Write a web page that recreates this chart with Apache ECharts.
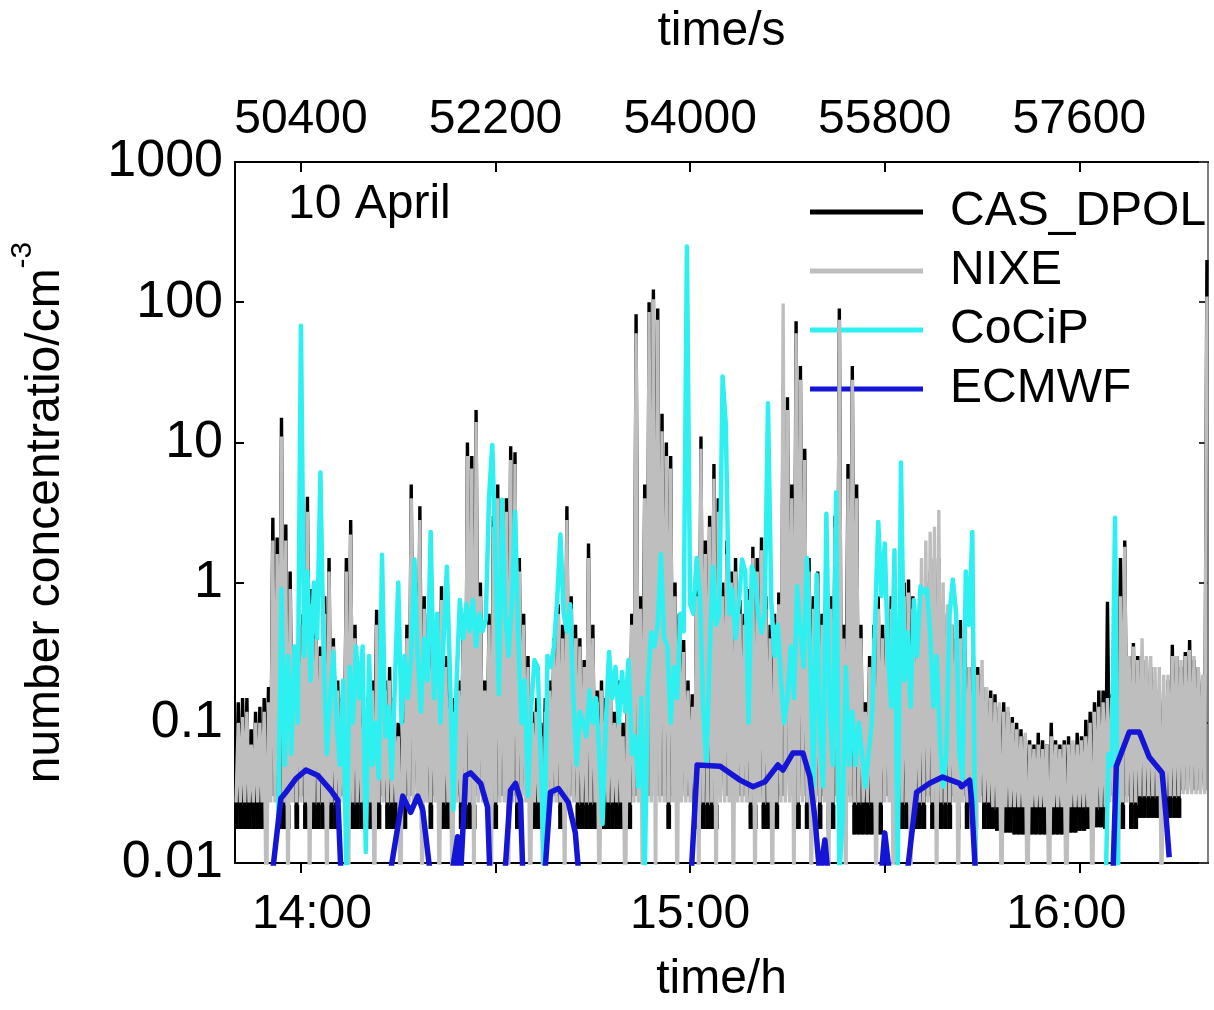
<!DOCTYPE html>
<html><head><meta charset="utf-8">
<script src="https://cdn.jsdelivr.net/npm/echarts@6/dist/echarts.min.js"></script>
<style>html,body{margin:0;padding:0;background:#fff}#c{width:1214px;height:1010px}</style>
</head><body><div id="c"></div>
<script>
// ---------- data ----------
// CAS_DPOL: per 40 s block starting at 49800 s: low reading (and top of its low-level band), high reading 20 s later
const casStart = 49800, casStep = 20;
const casHi = [
0.14,0.15,0.15,0.09,0.12,0.13,0.15,0.18,2.9,2.1,
15,2.6,1.2,0.2,0.5,0.6,4.1,0.9,0.5,0.35,
0.8,1.5,0.4,0.2,0.15,1.5,2.8,0.5,0.2,0.12,
0.15,0.2,0.64,0.3,0.2,0.25,0.15,0.1,0.12,0.5,
5.0,1.0,3.5,0.8,0.6,0.4,0.5,0.94,0.3,0.18,
0.15,0.2,0.5,10,8,17,1.0,0.2,0.6,3,
5,2,4,9.4,8.5,1.5,0.6,0.3,0.12,0.15,
0.1,0.15,0.2,0.4,0.7,0.5,3.5,0.8,0.5,0.4,
0.28,1.9,0.5,0.17,0.2,0.15,0.25,0.12,0.2,0.1,
0.2,0.6,82,0.8,5,100,123,90,16,10,
8,1.0,0.6,0.39,0.2,0.16,1.0,11,2,3,
7,4,1.0,2,1.2,1.5,0.75,0.6,0.9,1.8,
1.5,2.1,0.8,0.5,0.6,0.85,25,21,5,73,
35,9,1.5,0.8,1.2,0.6,1.5,0.8,3,90,
0.5,7,35,5,0.5,0.14,0.3,0.5,0.8,0.5,
0.6,0.8,0.4,0.6,1.0,1.05,0.8,0.5,0.8,1.0,
1.2,1.5,1.5,0.7,0.6,0.5,0.4,0.54,0.35,0.25,
0.3,0.25,0.22,0.18,0.17,0.16,0.13,0.14,0.12,0.11,
0.1,0.09,0.08,0.075,0.07,0.085,0.075,0.07,0.1,0.075,
0.07,0.075,0.08,0.07,0.085,0.08,0.105,0.12,0.14,0.17,
0.17,0.73,0.16,0.2,1.5,2.0,0.3,0.37,0.3,0.3,
0.28,0.25,0.2,0.17,0.15,0.2,0.36,0.3,0.25,0.32,
0.39,0.28,0.25,0.2,200];
const casLo = [
0.0175,0.0175,0.0175,0.0175,0.0175,0.0175,0.0175,0.03,0.03,0.03,
0.0175,0.0175,0.0175,0.03,0.0175,0.03,0.0175,0.03,0.0175,0.0175,
0.0175,0.0175,0.0175,0.0175,0.03,0.03,0.0175,0.0175,0.0175,0.0175,
0.03,0.0175,0.03,0.0175,0.03,0.0175,0.0175,0.0175,0.0175,0.0175,
0.03,0.03,0.03,0.0175,0.03,0.0175,0.03,0.0175,0.0175,0.0175,
0.03,0.03,0.0175,0.0175,0.0175,0.0175,0.03,0.03,0.03,0.0175,
0.0175,0.03,0.03,0.0175,0.03,0.0175,0.03,0.03,0.03,0.0175,
0.0175,0.03,0.03,0.03,0.03,0.0175,0.03,0.03,0.03,0.0175,
0.0175,0.0175,0.0175,0.0175,0.0175,0.0175,0.0175,0.0175,0.0175,0.0175,
0.0175,0.0175,0.03,0.03,0.03,0.03,0.03,0.03,0.03,0.03,
0.0175,0.03,0.03,0.03,0.03,0.03,0.0175,0.0175,0.0175,0.0175,
0.0175,0.0175,0.03,0.03,0.03,0.03,0.03,0.03,0.03,0.0175,
0.0175,0.03,0.0175,0.0175,0.0175,0.0175,0.03,0.03,0.03,0.03,
0.0175,0.03,0.0175,0.03,0.03,0.0175,0.03,0.0175,0.0175,0.03,
0.03,0.03,0.03,0.016,0.016,0.016,0.016,0.016,0.016,0.016,
0.03,0.03,0.03,0.03,0.0175,0.0175,0.03,0.0175,0.0175,0.0175,
0.03,0.0175,0.0175,0.0175,0.0175,0.0175,0.03,0.0175,0.03,0.0175,
0.03,0.0175,0.03,0.0175,0.0175,0.0175,0.017,0.017,0.0165,0.0165,
0.016,0.016,0.016,0.016,0.016,0.016,0.016,0.016,0.016,0.016,
0.016,0.016,0.016,0.0165,0.0165,0.017,0.017,0.0175,0.018,0.018,
0.018,0.0175,0.03,0.03,0.0175,0.0175,0.03,0.0175,0.0175,0.021,
0.021,0.021,0.021,0.021,0.021,0.021,0.021,0.021,0.021,0.033,
0.033,0.033,0.033,0.033,0.033];
const casTop = [
0.026,0.026,0.026,0.026,0.026,0.026,0.026,0.03,0.03,0.03,
0.026,0.026,0.026,0.03,0.026,0.03,0.026,0.03,0.026,0.026,
0.026,0.026,0.026,0.026,0.03,0.03,0.026,0.026,0.026,0.026,
0.03,0.026,0.03,0.026,0.03,0.026,0.026,0.026,0.026,0.026,
0.03,0.03,0.03,0.026,0.03,0.026,0.03,0.026,0.026,0.026,
0.03,0.03,0.026,0.026,0.026,0.026,0.03,0.03,0.03,0.026,
0.026,0.03,0.03,0.026,0.03,0.026,0.03,0.03,0.03,0.026,
0.026,0.03,0.03,0.03,0.03,0.026,0.03,0.03,0.03,0.026,
0.026,0.026,0.026,0.026,0.026,0.026,0.026,0.026,0.026,0.026,
0.026,0.026,0.03,0.03,0.03,0.03,0.03,0.03,0.03,0.03,
0.026,0.03,0.03,0.03,0.03,0.03,0.026,0.026,0.026,0.026,
0.026,0.026,0.03,0.03,0.03,0.03,0.03,0.03,0.03,0.026,
0.026,0.03,0.026,0.026,0.026,0.026,0.03,0.03,0.03,0.03,
0.026,0.03,0.026,0.03,0.03,0.026,0.03,0.026,0.026,0.03,
0.03,0.03,0.03,0.026,0.026,0.026,0.026,0.026,0.026,0.026,
0.03,0.03,0.03,0.03,0.026,0.026,0.03,0.026,0.026,0.026,
0.03,0.026,0.026,0.026,0.026,0.026,0.03,0.026,0.03,0.026,
0.03,0.026,0.03,0.026,0.026,0.024,0.024,0.024,0.024,0.024,
0.024,0.024,0.024,0.024,0.024,0.024,0.024,0.024,0.024,0.024,
0.024,0.024,0.024,0.024,0.024,0.024,0.024,0.024,0.024,0.024,
0.025,0.026,0.03,0.03,0.026,0.026,0.03,0.026,0.026,0.029,
0.029,0.029,0.029,0.029,0.029,0.029,0.029,0.029,0.029,0.033,
0.033,0.033,0.033,0.033,0.033];
// NIXE: per 40 s block starting at 49800 s: low reading, then high reading 20 s later
const nixeHi = [
0.1,0.11,0.12,0.07,0.1,0.1,0.12,0.14,2.0,1.6,
11,2.0,0.9,0.17,0.45,0.5,3.2,0.7,0.4,0.3,
0.6,1.2,0.35,0.17,0.12,1.2,2.2,0.4,0.17,0.1,
0.12,0.17,0.5,0.25,0.17,0.2,0.12,0.08,0.1,0.4,
4.0,0.8,2.8,0.65,0.5,0.35,0.4,0.75,0.25,0.15,
0.12,0.17,0.4,8,6.5,14,0.8,0.17,0.5,2.5,
4,1.6,3.2,7.5,7,1.2,0.5,0.25,0.1,0.12,
0.08,0.12,0.17,0.35,0.6,0.4,2.8,0.65,0.4,0.35,
0.25,1.5,0.4,0.14,0.17,0.12,0.2,0.1,0.17,0.08,
0.17,0.5,60,0.65,4,85,105,75,12,8,
6.5,0.8,0.5,0.32,0.17,0.13,0.8,9,1.6,2.5,
5.5,3.2,0.8,1.6,1.0,1.2,0.6,0.5,0.75,1.5,
1.2,1.7,0.65,0.4,0.5,0.7,98,17,4,60,
28,7.5,1.2,0.65,1.0,0.5,1.2,0.65,2.5,75,
0.4,5.5,28,4,0.4,0.12,0.25,0.4,0.65,0.4,
0.5,0.65,0.35,0.5,0.8,0.85,0.65,0.4,1.5,2.0,
2.3,2.5,3.3,1.0,0.7,0.5,0.45,0.4,0.3,0.25,
0.25,0.22,0.28,0.18,0.15,0.14,0.14,0.12,0.13,0.1,
0.09,0.08,0.085,0.07,0.065,0.07,0.065,0.07,0.08,0.07,
0.065,0.07,0.07,0.075,0.07,0.075,0.08,0.1,0.12,0.13,
0.14,0.15,0.15,0.2,0.8,1.8,0.3,0.35,0.28,0.4,
0.3,0.3,0.25,0.25,0.22,0.22,0.3,0.3,0.28,0.3,
0.33,0.3,0.25,0.22,110];
const nixeLo = [
0.027,0.027,0.027,0.027,0.027,0.027,0.027,0.003,0.027,0.027,
0.027,0.027,0.003,0.027,0.027,0.027,0.027,0.003,0.027,0.027,
0.027,0.003,0.027,0.027,0.027,0.027,0.003,0.027,0.027,0.027,
0.027,0.027,0.003,0.027,0.027,0.027,0.027,0.027,0.003,0.027,
0.027,0.027,0.027,0.003,0.027,0.027,0.027,0.003,0.027,0.027,
0.003,0.027,0.027,0.027,0.027,0.003,0.027,0.027,0.027,0.003,
0.027,0.027,0.027,0.003,0.027,0.027,0.027,0.027,0.003,0.027,
0.027,0.003,0.027,0.027,0.027,0.027,0.003,0.027,0.027,0.027,
0.027,0.027,0.027,0.027,0.003,0.027,0.027,0.027,0.027,0.027,
0.003,0.027,0.027,0.027,0.003,0.027,0.027,0.003,0.027,0.027,
0.027,0.027,0.003,0.027,0.027,0.027,0.027,0.003,0.027,0.027,
0.027,0.003,0.027,0.027,0.027,0.003,0.027,0.027,0.027,0.027,
0.003,0.027,0.027,0.027,0.003,0.027,0.027,0.027,0.027,0.003,
0.027,0.027,0.027,0.003,0.027,0.027,0.027,0.003,0.027,0.027,
0.027,0.003,0.027,0.027,0.027,0.027,0.027,0.027,0.003,0.027,
0.027,0.027,0.003,0.027,0.027,0.027,0.003,0.027,0.027,0.027,
0.027,0.027,0.003,0.027,0.027,0.027,0.027,0.003,0.027,0.027,
0.027,0.003,0.027,0.027,0.027,0.025,0.025,0.003,0.025,0.025,
0.025,0.025,0.025,0.003,0.025,0.025,0.025,0.025,0.003,0.025,
0.025,0.025,0.003,0.025,0.025,0.025,0.025,0.025,0.003,0.025,
0.025,0.025,0.027,0.027,0.003,0.027,0.027,0.027,0.027,0.03,
0.03,0.03,0.03,0.03,0.003,0.03,0.03,0.03,0.03,0.031,
0.031,0.031,0.031,0.031,0.031];
// CoCiP: one value every 30 s starting at 50100 s (null = no model value)
const cocipStart = 50100, cocipStep = 30;
const cocip = [
null,null,null,0.02,0.9,0.05,0.3,0.06,0.35,0.1,
68,0.3,1.2,0.2,1.0,0.4,6.1,0.3,0.06,0.15,
0.32,0.1,0.05,0.2,0.008,0.25,0.1,0.35,0.15,0.35,
0.012,0.3,0.05,0.1,0.04,1.58,0.08,0.13,0.04,0.2,
1.0,0.1,0.3,0.15,0.3,1.46,0.3,0.12,0.4,0.2,
2.3,0.15,0.6,0.1,0.4,1.3,0.2,0.024,0.2,0.75,
0.4,0.7,0.45,0.75,0.35,0.6,0.45,0.55,4.1,9.6,
1.5,0.16,3.9,0.6,0.3,0.7,3.2,0.4,0.1,0.2,
0.03,0.13,0.28,0.25,0.05,0.008,0.3,0.25,0.35,0.75,
2.2,0.6,0.45,0.7,0.15,0.05,0.12,0.1,0.08,0.17,
0.1,0.15,0.06,0.019,0.1,0.32,0.15,0.25,0.1,0.23,
0.12,0.28,0.06,0.08,0.035,0.15,0.008,0.2,0.44,0.35,
0.5,1.6,0.4,0.35,0.1,0.25,0.15,0.6,0.45,250,
0.7,0.6,1.5,0.8,0.13,0.05,0.3,1.3,0.5,0.6,
29.5,13.4,0.6,0.9,0.4,0.7,1.46,1.2,0.1,1.3,
1.1,0.6,0.44,0.6,19,0.75,0.3,0.5,0.2,0.1,
0.15,0.35,0.15,0.94,0.44,0.25,1.5,0.3,0.035,1.14,
0.08,0.035,3.1,0.13,0.05,4.4,0.008,0.02,0.25,0.05,
0.12,0.05,0.1,0.06,0.035,0.06,0.1,0.5,2.7,0.8,
1.9,0.3,0.13,1.7,0.008,7.2,0.2,0.44,0.13,0.75,
0.3,0.94,0.85,0.9,0.44,0.13,0.3,0.08,0.035,0.06,
0.6,1.05,0.6,0.06,0.04,1.2,0.5,2.3,0.005,null,
null,null,null,null,null,null,null,null,null,null,
null,null,null,null,null,null,null,null,null,null,
null,null,null,null,null,null,null,null,null,null,
null,null,null,null,null,null,null,null,0.005,0.06,
0.05,2.9,0.005];
// ECMWF: [time/s, value]
const ecmwf = [
[50114,0.006],[50215,0.029],[50262,0.032],[50354,0.04],[50446,0.046],[50557,0.042],[50677,0.033],[50742,0.028],[50778,0.006],
[51194,0.006],[51342,0.030],[51415,0.023],[51480,0.030],[51526,0.024],[51618,0.006],
[51766,0.006],[51849,0.0154],[51868,0.006],[51923,0.042],[51969,0.044],[52062,0.037],[52126,0.025],[52154,0.006],
[52274,0.006],[52338,0.033],[52385,0.037],[52431,0.028],[52458,0.006],
[52643,0.006],[52708,0.032],[52782,0.034],[52874,0.027],[52938,0.0164],[52985,0.006],
[54000,0.006],[54065,0.050],[54277,0.049],[54462,0.039],[54582,0.035],[54692,0.038],[54812,0.050],[54858,0.046],[54951,0.061],[55043,0.061],[55108,0.041],[55154,0.021],[55200,0.008],[55246,0.0146],[55292,0.006],
[55754,0.006],[55800,0.0164],[55865,0.006],
[55985,0.006],[56095,0.032],[56215,0.037],[56335,0.041],[56492,0.037],[56511,0.035],[56585,0.039],[56603,0.028],[56649,0.006],
[57905,0.006],[57942,0.049],[58062,0.086],[58154,0.086],[58246,0.057],[58366,0.044],[58403,0.021],[58431,0.011]];

const xMin = 49790, xMax = 58790;
const secTicks = [50400, 52200, 54000, 55800, 57600];
const hourTicks = [50400, 54000, 57600];
const hourLabels = ['14:00', '15:00', '16:00'];
const yTickLabels = ['0.01', '0.1', '1', '10', '100', '1000'];
const seriesNames = ['CAS_DPOL', 'NIXE', 'CoCiP', 'ECMWF'];

// ---------- build ----------
const tk = k => casStart + 2 * casStep * k;
const casData = [], nixeData = [];
casHi.forEach((hi, k) => { casData.push([tk(k), casLo[k]], [tk(k) + casStep, hi]); });
nixeHi.forEach((hi, k) => { nixeData.push([tk(k), nixeLo[k]], [tk(k) + casStep, hi]); });
const bandData = casLo.map((v, k) => [tk(k), v, casTop[k]]);
const cocipData = cocip.map((v, i) => [cocipStart + cocipStep * i, v]);

function renderBand(params, api) {
  const t = api.value(0), lo = api.value(1), top = api.value(2);
  if (!(top > lo)) return null;
  const a = api.coord([t - casStep, lo]);
  const b = api.coord([t + casStep, top]);
  return { type: 'rect', shape: { x: a[0], y: b[1], width: b[0] - a[0] + 0.4, height: a[1] - b[1] },
           style: { fill: '#000' } };
}

const FONT = '"Liberation Sans", Arial, sans-serif';
const txt = { fontSize: 48, fontFamily: FONT, color: '#000' };
const hourRich = ['r', 'c', 'l'];
const chart = echarts.init(document.getElementById('c'));
chart.setOption({
  animation: false,
  backgroundColor: '#fff',
  grid: { left: 234, right: 6, top: 162, bottom: 147 },
  legend: {
    orient: 'vertical', left: 805, top: 183, icon: 'rect', itemWidth: 113, itemHeight: 5, itemGap: 11,
    selectedMode: false, data: seriesNames,
    textStyle: Object.assign({ lineHeight: 48, padding: [0, 0, 0, 22] }, txt)
  },
  graphic: [{ type: 'text', left: 288, top: 181, style: { text: '10 April', font: '48px ' + FONT, fill: '#000' } }],
  xAxis: [{
    type: 'value', position: 'bottom', min: xMin, max: xMax,
    name: 'time/h', nameLocation: 'middle', nameGap: 93, nameTextStyle: txt,
    axisLine: { onZero: false, lineStyle: { color: '#000', width: 2 } },
    axisTick: { inside: false, length: 10, customValues: secTicks, lineStyle: { color: '#000', width: 2 } },
    axisLabel: Object.assign({
      customValues: hourTicks, margin: 28,
      formatter: v => { const i = hourTicks.indexOf(v); return '{' + hourRich[i] + '|' + hourLabels[i] + '}'; },
      rich: {
        r: { fontSize: 48, fontFamily: FONT, color: '#000', padding: [0, 0, 0, 22] },
        c: { fontSize: 48, fontFamily: FONT, color: '#000' },
        l: { fontSize: 48, fontFamily: FONT, color: '#000', padding: [0, 26, 0, 0] }
      }
    }, txt),
    splitLine: { show: false }
  }, {
    type: 'value', position: 'top', min: xMin, max: xMax,
    name: 'time/s', nameLocation: 'middle', nameGap: 106, nameTextStyle: txt,
    axisLine: { onZero: false, lineStyle: { color: '#000', width: 2 } },
    axisTick: { inside: true, length: 10, customValues: secTicks, lineStyle: { color: '#000', width: 2 } },
    axisLabel: Object.assign({ customValues: secTicks, margin: 18, formatter: v => String(v) }, txt),
    splitLine: { show: false }
  }],
  yAxis: [{
    type: 'log', logBase: 10, min: 0.01, max: 1000, position: 'left',
    name: '{a|number concentratio/cm}{b|-3}', nameLocation: 'middle', nameRotate: 90, nameGap: 165,
    nameTextStyle: Object.assign({ rich: {
      a: { fontSize: 48, fontFamily: FONT, color: '#000', lineHeight: 62, verticalAlign: 'bottom' },
      b: { fontSize: 30, fontFamily: FONT, color: '#000', lineHeight: 30, verticalAlign: 'top' } } }, txt),
    axisLine: { lineStyle: { color: '#000', width: 2 } },
    axisTick: { inside: true, length: 9, lineStyle: { color: '#000', width: 2 } },
    minorTick: { show: false },
    axisLabel: { margin: 12, fontSize: 52, fontFamily: FONT, color: '#000',
      formatter: v => yTickLabels[Math.round(Math.log10(v)) + 2] },
    splitLine: { show: false }
  }, {
    type: 'log', logBase: 10, min: 0.01, max: 1000, position: 'right',
    axisLine: { show: true, lineStyle: { color: '#555', width: 1.5 } },
    axisTick: { inside: true, length: 9, lineStyle: { color: '#333', width: 2 } },
    axisLabel: { show: false }, splitLine: { show: false }
  }],
  series: [
    { name: 'CAS_DPOL', type: 'line', data: casData, symbol: 'none', silent: true, z: 3,
      lineStyle: { color: '#000', width: 3.4, join: 'bevel' }, itemStyle: { color: '#000' } },
    { name: 'CAS_DPOL', type: 'custom', data: bandData, renderItem: renderBand, silent: true, z: 2, clip: true,
      encode: { x: 0, y: [1, 2] }, itemStyle: { color: '#000' } },
    { name: 'NIXE', type: 'line', data: nixeData, symbol: 'none', silent: true, z: 4,
      lineStyle: { color: '#bebebe', width: 3.4, join: 'bevel' }, itemStyle: { color: '#bebebe' } },
    { name: 'CoCiP', type: 'line', data: cocipData, symbol: 'none', silent: true, connectNulls: false, z: 5,
      lineStyle: { color: '#2ef0f0', width: 4.5, join: 'round' }, itemStyle: { color: '#2ef0f0' } },
    { name: 'ECMWF', type: 'line', data: ecmwf, symbol: 'none', silent: true, z: 6,
      lineStyle: { color: '#1515d5', width: 5.5, join: 'round' }, itemStyle: { color: '#1515d5' } }
  ]
});
</script></body></html>
